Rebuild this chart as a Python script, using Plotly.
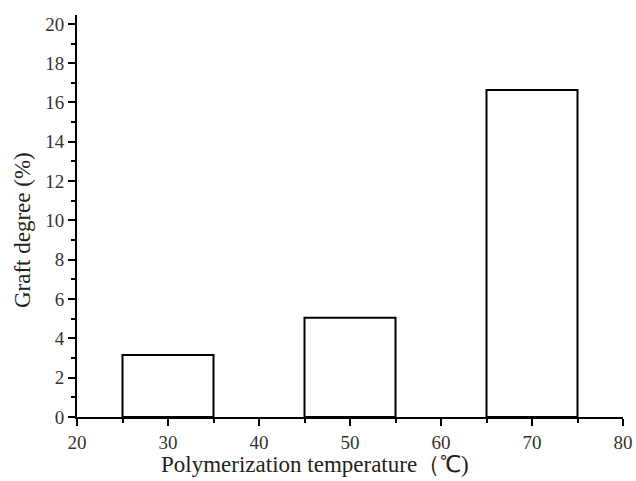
import plotly.graph_objects as go

temperatures = [30, 50, 70]
graft_degree = [3.16, 5.05, 16.63]
x_ticks = [20, 30, 40, 50, 60, 70, 80]
y_ticks = [0, 2, 4, 6, 8, 10, 12, 14, 16, 18, 20]
x_title = "Polymerization temperature（℃)"
y_title = "Graft degree (%)"

fig = go.Figure()
fig.add_trace(go.Bar(
    x=temperatures, y=graft_degree, width=10,
    marker=dict(color="white", line=dict(color="black", width=2)),
    showlegend=False,
))

font_family = "Liberation Serif, Times New Roman, serif"
fig.update_layout(
    width=636, height=481,
    margin=dict(l=77, r=13, t=15, b=64),
    paper_bgcolor="white", plot_bgcolor="white",
    font=dict(family=font_family, color="#222", size=18),
    xaxis=dict(
        range=[20, 80], tickvals=x_ticks, ticks="outside", ticklen=7, tickwidth=2,
        showline=True, linecolor="black", linewidth=2, showgrid=False, zeroline=False,
        automargin=False,
        tickfont=dict(size=19, family=font_family, color="#333"),
        minor=dict(dtick=5, tick0=0, ticks="outside", ticklen=4, tickwidth=2, tickcolor="black"),
        tickcolor="black",
    ),
    yaxis=dict(
        range=[0, 20.45], tickvals=y_ticks, ticks="outside", ticklen=7, tickwidth=2,
        showline=True, linecolor="black", linewidth=2, showgrid=False, zeroline=False,
        automargin=False,
        tickfont=dict(size=19, family=font_family, color="#333"),
        minor=dict(dtick=1, tick0=0, ticks="outside", ticklen=4, tickwidth=2, tickcolor="black"),
        tickcolor="black",
    ),
    annotations=[
        dict(text=x_title, xref="paper", yref="paper", x=0.436, y=-0.119,
             xanchor="center", yanchor="middle", showarrow=False,
             font=dict(size=23, family=font_family, color="#222")),
        dict(text=y_title, xref="paper", yref="paper", x=-0.1007, y=0.465,
             xanchor="center", yanchor="middle", showarrow=False, textangle=-90,
             font=dict(size=23, family=font_family, color="#222")),
    ],
)

fig.write_html("out.html")
